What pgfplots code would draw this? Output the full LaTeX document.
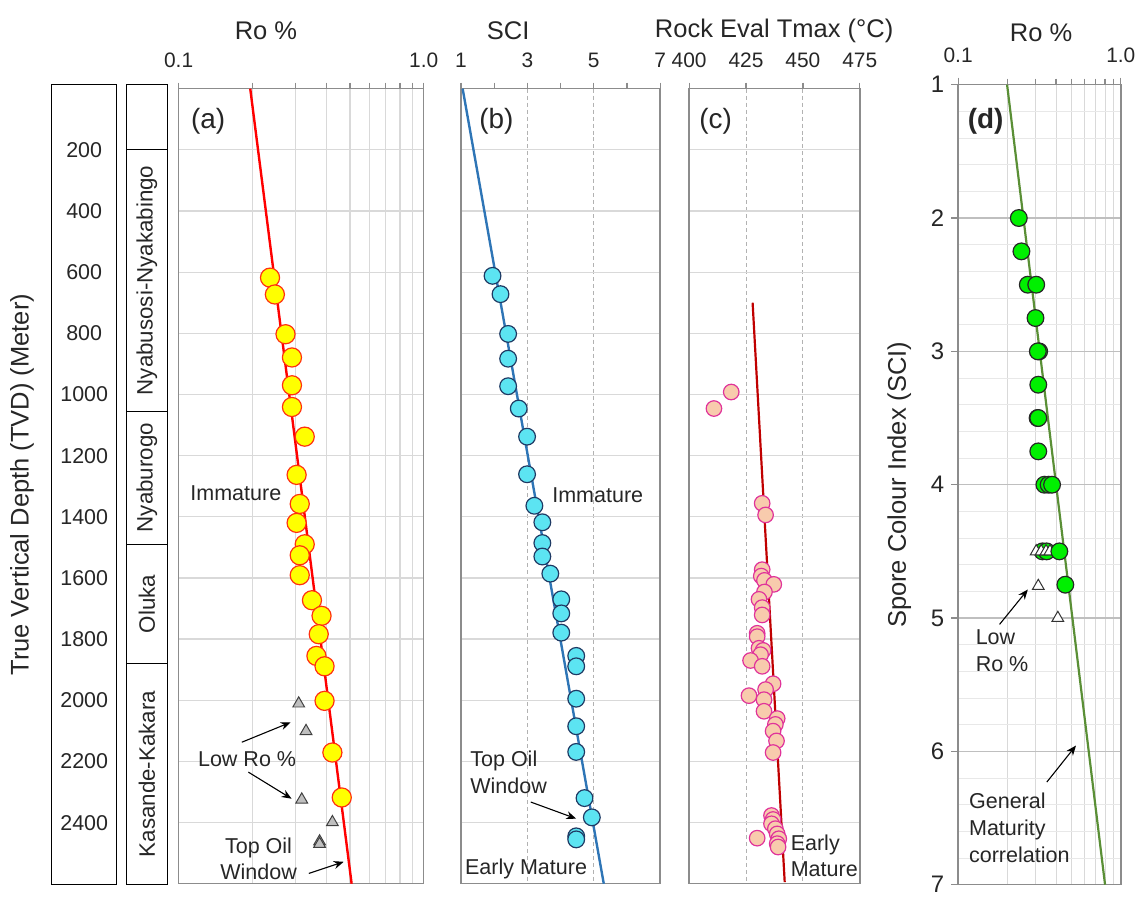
\documentclass[border=0pt]{standalone}
\usepackage{fontspec}
\setmainfont{Liberation Sans}
\usepackage{pgfplots}
\pgfplotsset{compat=1.18}
\usetikzlibrary{arrows.meta}

\definecolor{framec}{HTML}{8C8C8C}
\definecolor{gridc}{HTML}{D9D9D9}
\definecolor{txt}{HTML}{262626}
\definecolor{roFill}{HTML}{FFFF00}
\definecolor{roEdge}{HTML}{FF3010}
\definecolor{roLine}{HTML}{FF0000}
\definecolor{sciFill}{HTML}{5CE4F2}
\definecolor{sciEdge}{HTML}{1F3A64}
\definecolor{sciLine}{HTML}{2E75B6}
\definecolor{tmFill}{HTML}{F8CBAD}
\definecolor{tmEdge}{HTML}{E0339A}
\definecolor{tmLine}{HTML}{C00000}
\definecolor{grFill}{HTML}{00F000}
\definecolor{grLine}{HTML}{5A8F36}
\definecolor{triFill}{HTML}{BFBFBF}

\pgfplotsset{
  depthpanel/.style={
    scale only axis, anchor=north west, height=399pt,
    ymin=0, ymax=2600, y dir=reverse,
    ytick={0,200,...,2600}, yticklabels={}, ytick style={draw=none},
    ymajorgrids,
    major y grid style={gridc, line width=0.6pt},
    xtick pos=right, xticklabel pos=right, tick align=outside,
    major tick length=3pt, minor tick length=3pt,
    xtick style={framec, line width=0.6pt},
    axis line style={framec, line width=0.75pt},
    xticklabel style={font=\fontsize{10.5}{12}\selectfont, text=txt, yshift=4pt},
    /pgf/number format/assume math mode=true,
  },
  boxaxis/.style={
    scale only axis, anchor=north west, width=32.5pt, height=401.5pt,
    xmin=0, xmax=1, ymin=-13, ymax=2603, y dir=reverse,
    xtick=\empty, major tick length=0pt,
    axis line style={black, line width=0.6pt},
    /pgf/number format/1000 sep={},
    /pgf/number format/assume math mode=true,
  },
}

\begin{document}
\begin{tikzpicture}
\begin{scope}[x=0.5pt,y=-0.5pt]
  \useasboundingbox (0,0) rectangle (1142,894);
\end{scope}

% ---------- depth scale ----------
\begin{axis}[boxaxis, at={(26pt,-42.5pt)},
  ytick={200,400,...,2400},
  yticklabel style={anchor=center, xshift=16.25pt, font=\fontsize{10.75}{12}\selectfont, text=txt},
  ylabel={True Vertical Depth (TVD) (Meter)},
  ylabel style={at={(axis description cs:-0.4615,0.5)}, anchor=center,
    font=\fontsize{12.8}{14}\selectfont, text=txt},
]
\end{axis}

% ---------- formations ----------
\begin{axis}[boxaxis, at={(63.5pt,-42.5pt)}, width=20.5pt,
  ytick={200,1055,1490,1880}, yticklabels={},
  ymajorgrids, major y grid style={black, line width=0.6pt},
]
\node[rotate=90, font=\fontsize{11.2}{13}\selectfont, text=txt] at (axis cs:0.5,627) {Nyabusosi-Nyakabingo};
\node[rotate=90, font=\fontsize{11.2}{13}\selectfont, text=txt] at (axis cs:0.5,1272) {Nyaburogo};
\node[rotate=90, font=\fontsize{11.2}{13}\selectfont, text=txt] at (axis cs:0.5,1685) {Oluka};
\node[rotate=90, font=\fontsize{11.2}{13}\selectfont, text=txt] at (axis cs:0.5,2241) {Kasande-Kakara};
\end{axis}

% ---------- (a) vitrinite reflectance ----------
\begin{axis}[depthpanel, at={(89.65pt,-44.5pt)}, width=123pt,
  xmode=log, xmin=0.1, xmax=1,
  xtick={0.1,1}, xticklabels={0.1,1.0},
  minor xtick={0.2,0.3,0.4,0.5,0.6,0.7,0.8,0.9},
  xminorgrids, minor x grid style={gridc, line width=0.6pt},
]
\addplot[roLine, line width=1.2pt, no marks] coordinates {(0.196,0) (0.508,2600)};
\addplot[only marks, mark=triangle*, mark size=3.4pt,
  mark options={fill=triFill, draw=black!75, line width=0.5pt}] table {
x y
0.309 2011
0.331 2101
0.318 2325
0.424 2399
0.376 2462
0.376 2470
};
\addplot[only marks, mark=*, mark size=4.8pt,
  mark options={fill=roFill, draw=roEdge, line width=0.6pt}] table {
x y
0.236 618
0.247 673
0.273 803
0.290 879
0.290 970
0.290 1041
0.327 1138
0.303 1263
0.312 1358
0.303 1420
0.327 1490
0.312 1526
0.312 1591
0.350 1673
0.383 1724
0.373 1784
0.365 1855
0.394 1889
0.394 2002
0.424 2171
0.463 2318
};
\end{axis}

% ---------- (b) spore colour index ----------
\begin{axis}[depthpanel, at={(231.35pt,-44.5pt)}, width=100pt,
  xmin=1, xmax=7, xtick={1,3,5,7}, minor xtick={2,4,6},
  xmajorgrids, major x grid style={black!30, dash pattern=on 2pt off 1.5pt, line width=0.5pt},
]
\addplot[sciLine, line width=1.2pt, no marks] coordinates {(1.05,0) (5.30,2600)};
\addplot[only marks, mark=*, mark size=4.2pt,
  mark options={fill=sciFill, draw=sciEdge, line width=0.6pt}] table {
x y
1.95 612
2.19 672
2.42 802
2.42 883
2.42 973
2.74 1046
2.99 1138
2.99 1261
3.21 1364
3.45 1418
3.45 1486
3.45 1530
3.69 1586
4.02 1670
4.02 1716
4.02 1779
4.47 1855
4.47 1889
4.47 1995
4.47 2085
4.47 2169
4.72 2320
4.94 2383
4.47 2445
4.47 2455
};
\end{axis}

% ---------- (c) Rock-Eval Tmax ----------
\begin{axis}[depthpanel, at={(345.85pt,-44.5pt)}, width=85.65pt,
  xmin=400, xmax=475, xtick={400,425,450,475},
  xmajorgrids, major x grid style={black!30, dash pattern=on 2pt off 1.5pt, line width=0.5pt},
]
\addplot[tmLine, line width=1.1pt, no marks] coordinates {(427.9,700) (442.0,2595)};
\addplot[only marks, mark=*, mark size=3.9pt,
  mark options={fill=tmFill, draw=tmEdge, line width=0.6pt}] table {
x y
418.5 992
410.9 1046
432.1 1356
433.6 1394
432.1 1573
431.7 1594
433.1 1608
437.2 1621
433.1 1646
430.7 1670
432.1 1697
432.1 1721
429.9 1781
429.9 1792
430.7 1830
432.5 1837
431.4 1851
427.0 1870
432.1 1889
436.9 1946
433.6 1965
426.3 1985
432.9 1998
432.9 2036
438.7 2060
437.9 2079
436.9 2101
438.4 2133
436.9 2171
436.2 2377
436.9 2390
436.2 2404
437.9 2420
438.7 2437
429.9 2451
439.4 2453
438.7 2469
439.1 2480
};
\end{axis}

% ---------- (d) Ro versus SCI ----------
\begin{axis}[scale only axis, anchor=north west, at={(480.85pt,-42.5pt)},
  width=81.65pt, height=401.5pt,
  xmode=log, xmin=0.1, xmax=1, ymin=1, ymax=7, y dir=reverse,
  xtick={0.1,1}, xticklabels={0.1,1.0},
  minor xtick={0.2,0.3,0.4,0.5,0.6,0.7,0.8,0.9},
  ytick={1,2,...,7}, minor y tick num=4,
  xtick pos=right, xticklabel pos=right, ytick pos=left,
  tick align=outside, major tick length=3.5pt, minor tick length=3pt,
  tick style={framec, line width=0.6pt},
  minor y tick style={draw=none},
  axis line style={framec, line width=0.75pt},
  xminorgrids, ymajorgrids, yminorgrids,
  minor x grid style={gridc, line width=0.5pt},
  major y grid style={black!25, line width=0.6pt},
  minor y grid style={black!9, line width=0.5pt},
  xticklabel style={font=\fontsize{10.5}{12}\selectfont, text=txt, yshift=4pt},
  yticklabel style={font=\fontsize{12}{14}\selectfont, text=txt},
  /pgf/number format/assume math mode=true,
  ylabel={Spore Colour Index (SCI)},
  ylabel style={at={(axis description cs:-0.361,0.5)}, anchor=center,
    font=\fontsize{12.8}{14}\selectfont, text=txt},
]
\addplot[grLine, line width=1.1pt, no marks] coordinates {(0.200,1) (0.800,7)};
\addplot[only marks, mark=*, mark size=4.2pt,
  mark options={fill=grFill, draw=black!85, line width=0.6pt}] table {
x y
0.236 2.00
0.245 2.25
0.268 2.50
0.302 2.50
0.299 2.75
0.315 3.00
0.309 3.00
0.311 3.25
0.308 3.50
0.311 3.50
0.311 3.75
0.339 4.00
0.360 4.00
0.378 4.00
0.330 4.50
0.350 4.50
};
\addplot[only marks, mark=triangle*, mark size=3.4pt,
  mark options={fill=white, draw=black!80, line width=0.5pt}] table {
x y
0.302 4.50
0.324 4.50
0.347 4.50
0.367 4.50
0.311 4.76
0.410 5.00
};
\addplot[only marks, mark=*, mark size=4.2pt,
  mark options={fill=grFill, draw=black!85, line width=0.6pt}] table {
x y
0.419 4.50
0.456 4.75
};
\end{axis}

% ---------- titles and annotations ----------
\begin{scope}[x=0.5pt,y=-0.5pt,
  every node/.append style={font=\fontsize{10.8}{13.5}\selectfont, text=txt},
  arr/.style={-{Stealth[length=5pt,width=4pt]}, line width=0.55pt, black}]
  \node[font=\fontsize{12.8}{14}\selectfont] at (267,31) {Ro \%};
  \node[font=\fontsize{12.8}{14}\selectfont] at (510,31) {SCI};
  \node[font=\fontsize{12.8}{14}\selectfont] at (777,31) {Rock Eval Tmax (°C)};
  \node[font=\fontsize{12.8}{14}\selectfont] at (1045,33) {Ro \%};

  % (a)
  \node[font=\fontsize{14}{16}\selectfont] at (209,122) {(a)};
  \node at (236.7,495) {Immature};
  \node at (248,762) {Low Ro \%};
  \draw[arr] (242.7,745) -- (291.7,725);
  \draw[arr] (249.3,775) -- (292.7,801.7);
  \node[align=center] at (259.5,862) {Top Oil\\Window};
  \draw[arr] (310,876.7) -- (345,865);

  % (b)
  \node[font=\fontsize{14}{16}\selectfont] at (498.3,121.7) {(b)};
  \node at (600,496.7) {Immature};
  \node[align=left, anchor=west, inner sep=0pt] at (471.7,775) {Top Oil\\Window};
  \draw[arr] (532.7,805) -- (578.3,821.7);
  \node at (528,871.7) {Early Mature};

  % (c)
  \node[font=\fontsize{14}{16}\selectfont] at (718.3,121.7) {(c)};
  \node[align=left, anchor=west, inner sep=0pt] at (793.3,859) {Early\\Mature};

  % (d)
  \node[font=\bfseries\fontsize{14}{16}\selectfont] at (989.3,121.7) {(d)};
  \node[align=left, anchor=west, inner sep=0pt] at (979,653) {Low\\Ro \%};
  \draw[arr] (1003.3,626.7) -- (1031.7,591.7);
  \node[align=left, anchor=west, inner sep=0pt] at (972.3,831) {General\\Maturity\\correlation};
  \draw[arr] (1050.7,785) -- (1080,748.3);
\end{scope}
\end{tikzpicture}
\end{document}
